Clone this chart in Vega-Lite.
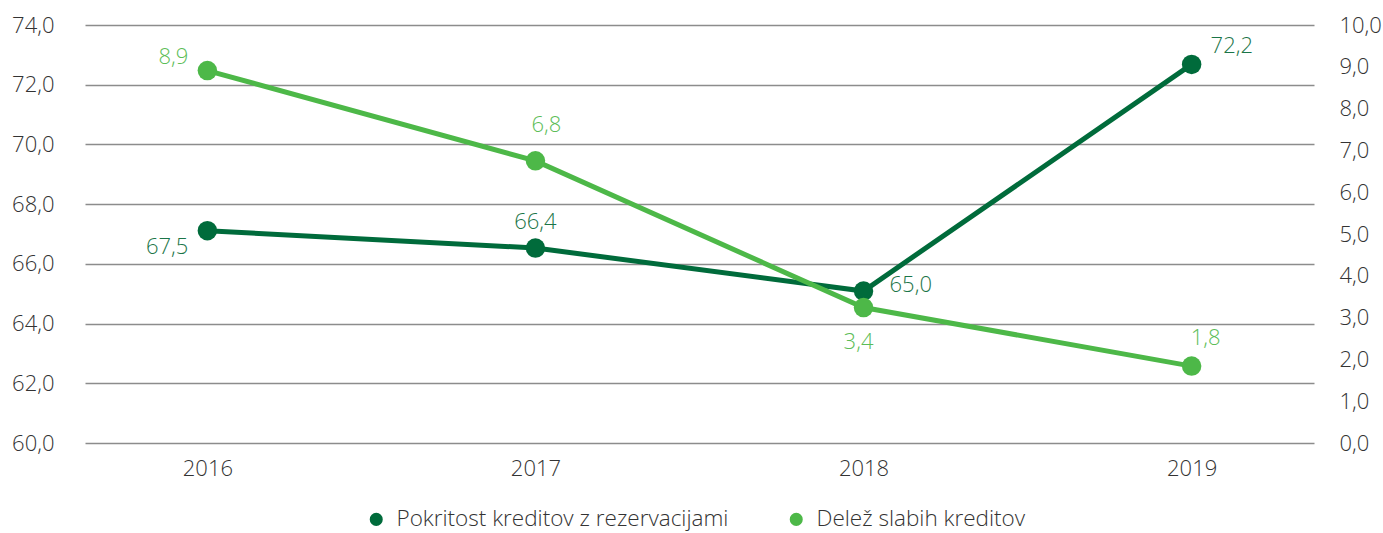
{
  "$schema": "https://vega.github.io/schema/vega-lite/v6.json",
  "autosize": {"type": "none"},
  "padding": {"left": 85, "top": 25, "right": 69, "bottom": 90},
  "width": 1229,
  "height": 418,
  "background": "#ffffff",
  "config": {
    "view": {"stroke": null},
    "axis": {"domain": false, "ticks": false, "labelFont": "Open Sans", "labelFontWeight": 300, "labelFontSize": 22, "labelColor": "#333333", "title": null},
    "text": {"font": "Open Sans", "fontWeight": 300, "fontSize": 22, "baseline": "middle"}
  },
  "data": {
    "values": [
      {"year": "2016", "series": "Pokritost kreditov z rezervacijami", "value": 67.11, "label": "67,5"},
      {"year": "2017", "series": "Pokritost kreditov z rezervacijami", "value": 66.53, "label": "66,4"},
      {"year": "2018", "series": "Pokritost kreditov z rezervacijami", "value": 65.09, "label": "65,0"},
      {"year": "2019", "series": "Pokritost kreditov z rezervacijami", "value": 72.68, "label": "72,2"},
      {"year": "2016", "series": "Delež slabih kreditov", "value": 8.91, "label": "8,9"},
      {"year": "2017", "series": "Delež slabih kreditov", "value": 6.75, "label": "6,8"},
      {"year": "2018", "series": "Delež slabih kreditov", "value": 3.24, "label": "3,4"},
      {"year": "2019", "series": "Delež slabih kreditov", "value": 1.84, "label": "1,8"}
    ]
  },
  "encoding": {
    "x": {"field": "year", "type": "ordinal", "scale": {"type": "point", "padding": 0.373},
      "axis": {"labelAngle": 0, "labelPadding": 15, "grid": false}}
  },
  "layer": [
    {
      "transform": [{"filter": "datum.series === 'Pokritost kreditov z rezervacijami'"}],
      "encoding": {
        "y": {"field": "value", "type": "quantitative", "scale": {"domain": [60, 74], "zero": false, "nice": false},
          "axis": {"orient": "left", "values": [60, 62, 64, 66, 68, 70, 72, 74], "labelExpr": "replace(format(datum.value, '.1f'), '.', ',')", "grid": true, "gridColor": "#8c8c8c", "gridWidth": 1.5, "labelPadding": 31}}
      },
      "layer": [
        {"mark": {"type": "line", "color": "#006b3b", "strokeWidth": 5}},
        {"mark": {"type": "point", "filled": true, "opacity": 1, "size": 380},
          "encoding": {"color": {"field": "series", "type": "nominal",
            "scale": {"domain": ["Pokritost kreditov z rezervacijami", "Delež slabih kreditov"], "range": ["#006b3b", "#4db848"]},
            "legend": {"orient": "none", "legendX": 280, "legendY": 483, "direction": "horizontal", "title": null, "padding": 0,
              "symbolType": "circle", "symbolSize": 170, "labelFont": "Open Sans", "labelFontWeight": 300, "labelFontSize": 22.5, "labelColor": "#333333",
              "labelOffset": 9, "columnPadding": 56, "labelLimit": 600}}}},
        {"transform": [{"filter": "datum.year === '2016'"}], "mark": {"type": "text", "align": "right", "dx": -19, "dy": 16, "color": "#1b7548"}, "encoding": {"text": {"field": "label"}}},
        {"transform": [{"filter": "datum.year === '2017'"}], "mark": {"type": "text", "align": "center", "dx": 0, "dy": -26, "color": "#1b7548"}, "encoding": {"text": {"field": "label"}}},
        {"transform": [{"filter": "datum.year === '2018'"}], "mark": {"type": "text", "align": "left", "dx": 26, "dy": -6, "color": "#1b7548"}, "encoding": {"text": {"field": "label"}}},
        {"transform": [{"filter": "datum.year === '2019'"}], "mark": {"type": "text", "align": "left", "dx": 19, "dy": -18, "color": "#1b7548"}, "encoding": {"text": {"field": "label"}}}
      ]
    },
    {
      "transform": [{"filter": "datum.series === 'Delež slabih kreditov'"}],
      "encoding": {
        "y": {"field": "value", "type": "quantitative", "scale": {"domain": [0, 10], "nice": false},
          "axis": {"orient": "right", "values": [0, 1, 2, 3, 4, 5, 6, 7, 8, 9, 10], "labelExpr": "replace(format(datum.value, '.1f'), '.', ',')", "grid": false, "labelPadding": 25}}
      },
      "layer": [
        {"mark": {"type": "line", "color": "#4db848", "strokeWidth": 5}},
        {"mark": {"type": "point", "filled": true, "opacity": 1, "size": 380},
          "encoding": {"color": {"field": "series", "type": "nominal"}}},
        {"transform": [{"filter": "datum.year === '2016'"}], "mark": {"type": "text", "align": "right", "dx": -19, "dy": -14, "color": "#5cbd57"}, "encoding": {"text": {"field": "label"}}},
        {"transform": [{"filter": "datum.year === '2017'"}], "mark": {"type": "text", "align": "center", "dx": 11, "dy": -36, "color": "#5cbd57"}, "encoding": {"text": {"field": "label"}}},
        {"transform": [{"filter": "datum.year === '2018'"}], "mark": {"type": "text", "align": "center", "dx": -5, "dy": 34, "color": "#5cbd57"}, "encoding": {"text": {"field": "label"}}},
        {"transform": [{"filter": "datum.year === '2019'"}], "mark": {"type": "text", "align": "center", "dx": 14, "dy": -28, "color": "#5cbd57"}, "encoding": {"text": {"field": "label"}}}
      ]
    }
  ],
  "resolve": {"scale": {"y": "independent"}}
}
